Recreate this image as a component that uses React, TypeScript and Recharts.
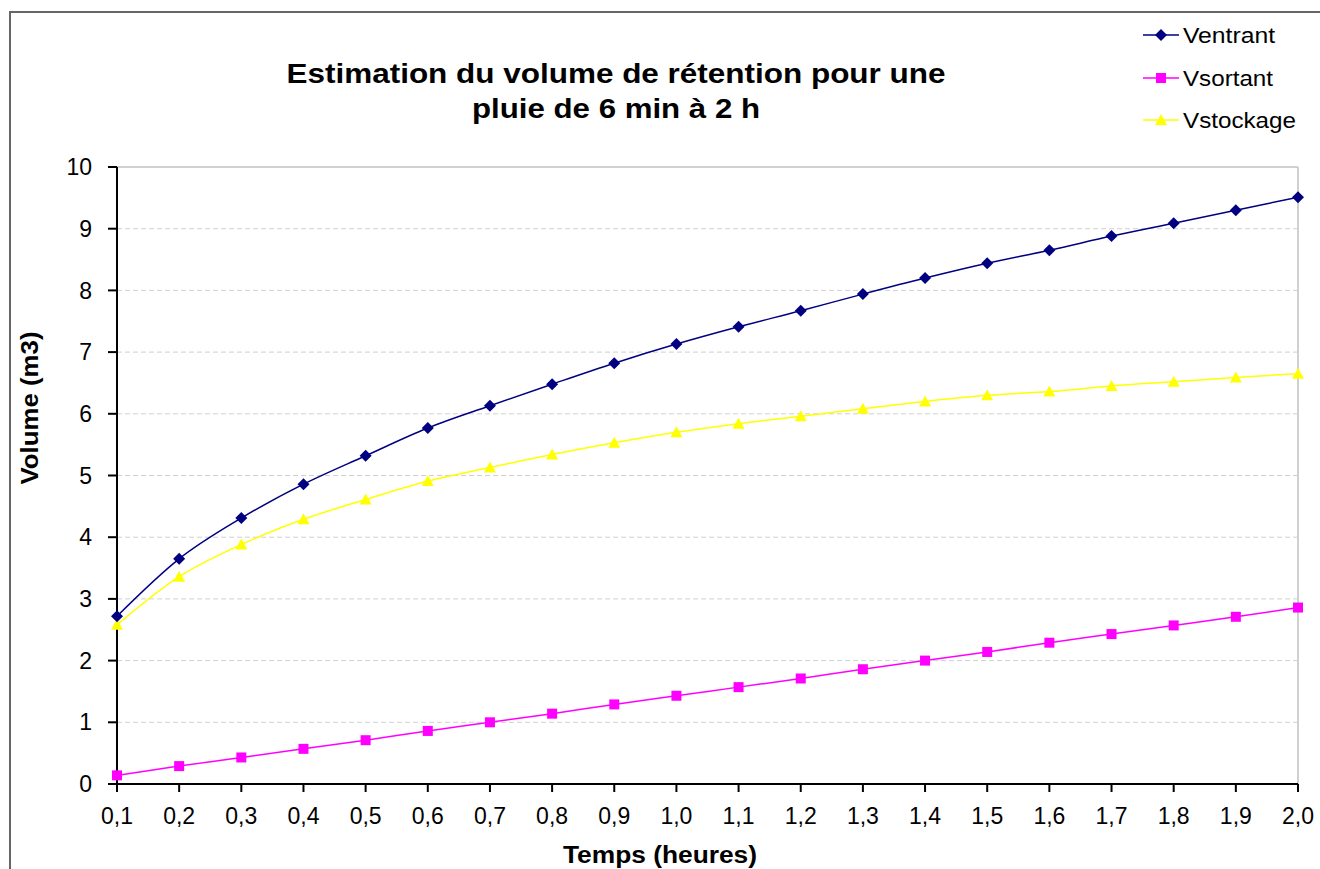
import { CartesianGrid, Line, LineChart, ReferenceLine, XAxis, YAxis } from "recharts";

const temps = ["0,1", "0,2", "0,3", "0,4", "0,5", "0,6", "0,7", "0,8", "0,9", "1,0", "1,1", "1,2", "1,3", "1,4", "1,5", "1,6", "1,7", "1,8", "1,9", "2,0"];
const ventrant = [2.72, 3.65, 4.31, 4.86, 5.32, 5.77, 6.13, 6.48, 6.82, 7.13, 7.41, 7.67, 7.94, 8.2, 8.44, 8.65, 8.88, 9.09, 9.3, 9.51];
const vsortant = [0.14, 0.29, 0.43, 0.57, 0.71, 0.86, 1.0, 1.14, 1.29, 1.43, 1.57, 1.71, 1.86, 2.0, 2.14, 2.29, 2.43, 2.57, 2.71, 2.86];
const vstockage = [2.58, 3.36, 3.88, 4.29, 4.61, 4.91, 5.13, 5.34, 5.53, 5.7, 5.84, 5.96, 6.08, 6.2, 6.3, 6.36, 6.45, 6.52, 6.59, 6.65];
const yTicks = [0, 1, 2, 3, 4, 5, 6, 7, 8, 9, 10];

const data = temps.map((t, i) => ({
  t,
  ventrant: ventrant[i],
  vsortant: vsortant[i],
  vstockage: vstockage[i],
}));

const font = "Arial, 'Liberation Sans', sans-serif";

const Diamond = (props: any) => {
  const { cx, cy } = props;
  if (cx == null || cy == null) return null;
  return <path d={`M${cx},${cy - 6}L${cx + 6},${cy}L${cx},${cy + 6}L${cx - 6},${cy}Z`} fill="#000080" />;
};

const Square = (props: any) => {
  const { cx, cy } = props;
  if (cx == null || cy == null) return null;
  return <rect x={cx - 5} y={cy - 5} width={10} height={10} fill="#ff00ff" />;
};

const Triangle = (props: any) => {
  const { cx, cy } = props;
  if (cx == null || cy == null) return null;
  return <path d={`M${cx},${cy - 6}L${cx + 6},${cy + 5}L${cx - 6},${cy + 5}Z`} fill="#ffff00" />;
};

const legendItems = [
  { name: "Ventrant", color: "#000080", y: 35, len: 92, shape: "diamond" },
  { name: "Vsortant", color: "#ff00ff", y: 78, len: 90, shape: "square" },
  { name: "Vstockage", color: "#ffff00", y: 120, len: 113, shape: "triangle" },
];

export default function App() {
  return (
    <div style={{ position: "fixed", left: 0, top: 0, width: 1320, height: 869, overflow: "hidden", background: "#fff", fontFamily: font }}>
      <div style={{ position: "absolute", left: 9, top: 11, width: 1400, height: 900, borderLeft: "2px solid #666", borderTop: "2px solid #666" }} />
      <svg style={{ position: "absolute", left: 0, top: 0 }} width={1320} height={869}>
        <text x={616} y={83} fontSize={28} fontWeight="bold" fontFamily={font} textAnchor="middle" textLength={659} lengthAdjust="spacingAndGlyphs">
          Estimation du volume de rétention pour une
        </text>
        <text x={616} y={118} fontSize={28} fontWeight="bold" fontFamily={font} textAnchor="middle" textLength={288} lengthAdjust="spacingAndGlyphs">
          pluie de 6 min à 2 h
        </text>
        {legendItems.map((it) => (
          <g key={it.name}>
            <line x1={1143} x2={1179} y1={it.y} y2={it.y} stroke={it.color} strokeWidth={1.5} />
            {it.shape === "diamond" && <Diamond cx={1161} cy={it.y} />}
            {it.shape === "square" && <Square cx={1161} cy={it.y} />}
            {it.shape === "triangle" && <Triangle cx={1161} cy={it.y} />}
            <text x={1183} y={it.y + 8} fontSize={22} fontFamily={font} fill="#000" textLength={it.len} lengthAdjust="spacingAndGlyphs">
              {it.name}
            </text>
          </g>
        ))}
        <text x={38} y={408} fontSize={23} fontWeight="bold" fontFamily={font} textAnchor="middle" transform="rotate(-90 38 408)" textLength={153} lengthAdjust="spacingAndGlyphs">
          Volume (m3)
        </text>
        <text x={660} y={863} fontSize={23} fontWeight="bold" fontFamily={font} textAnchor="middle" textLength={194} lengthAdjust="spacingAndGlyphs">
          Temps (heures)
        </text>
      </svg>
      <div style={{ position: "absolute", left: 0, top: 0 }}>
        <LineChart width={1320} height={869} data={data} margin={{ top: 167, right: 22, bottom: 40, left: 0 }}>
          <CartesianGrid vertical={false} stroke="#d0d0d0" strokeDasharray="5 3" />
          <ReferenceLine y={10} stroke="#d0d0d0" strokeWidth={2} />
          <ReferenceLine x="2,0" stroke="#d0d0d0" strokeWidth={2} />
          <XAxis
            dataKey="t"
            height={45}
            stroke="#000"
            strokeWidth={2}
            tickSize={8}
            tick={{ fill: "#000", fontSize: 23, fontFamily: font }}
            tickMargin={16}
            interval={0}
          />
          <YAxis
            width={117}
            domain={[0, 10]}
            ticks={yTicks}
            stroke="#000"
            strokeWidth={2}
            tickSize={9}
            tick={{ fill: "#000", fontSize: 23, fontFamily: font }}
            tickMargin={16}
          />
          <Line dataKey="vsortant" type="monotone" stroke="#ff00ff" strokeWidth={1.5} dot={<Square />} isAnimationActive={false} />
          <Line dataKey="vstockage" type="monotone" stroke="#ffff00" strokeWidth={1.5} dot={<Triangle />} isAnimationActive={false} />
          <Line dataKey="ventrant" type="monotone" stroke="#000080" strokeWidth={1.5} dot={<Diamond />} isAnimationActive={false} />
        </LineChart>
      </div>
    </div>
  );
}
